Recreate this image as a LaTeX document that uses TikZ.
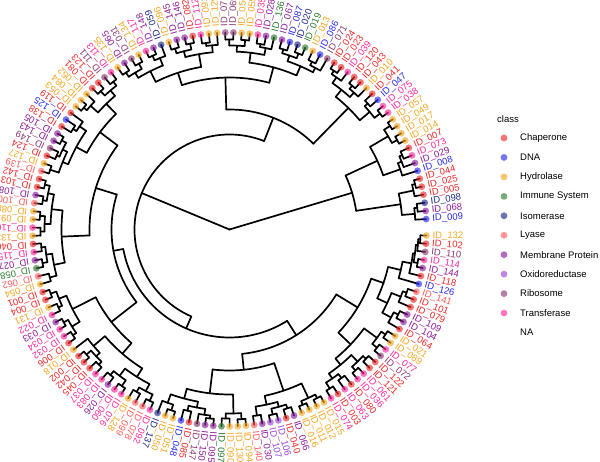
\documentclass[tikz,border=0pt]{standalone}
\usepackage{fontspec}
\setmainfont{Liberation Sans}
\definecolor{cC}{HTML}{F02828}
\definecolor{cD}{HTML}{2A2AF0}
\definecolor{cH}{HTML}{F5A623}
\definecolor{cI}{HTML}{2E7D32}
\definecolor{cS}{HTML}{20288A}
\definecolor{cL}{HTML}{FF5C5C}
\definecolor{cM}{HTML}{8E1C9C}
\definecolor{cO}{HTML}{9B45D8}
\definecolor{cR}{HTML}{8C3A72}
\definecolor{cT}{HTML}{FF2A9C}
\tikzset{br/.style={line width=1.7pt, line cap=round, black},
  lab/.style={anchor=west, inner sep=0pt, font=\fontsize{9.5}{10}\selectfont},
  tip/.style={opacity=0.65},
  legtxt/.style={anchor=west, inner sep=0pt, font=\fontsize{9.5}{11}\selectfont}}
\newcommand\inode[3]{%
  \gdef\tmn{1000}\gdef\tmx{-1000}%
  \foreach \ch in {#3}{%
    \edef\ca{\csname tA@\ch\endcsname}%
    \edef\cr{\csname tR@\ch\endcsname}%
    \draw[br] (\ca:#2pt) -- (\ca:\cr pt);%
    \pgfmathsetmacro\tmp{min(\tmn,\ca)}\xdef\tmn{\tmp}%
    \pgfmathsetmacro\tmp{max(\tmx,\ca)}\xdef\tmx{\tmp}%
  }%
  \draw[br] (\tmn:#2pt) arc[start angle=\tmn, end angle=\tmx, radius=#2pt];%
  \pgfmathsetmacro\tmp{(\tmn+\tmx)/2}%
  \expandafter\xdef\csname tA@#1\endcsname{\tmp}%
  \expandafter\xdef\csname tR@#1\endcsname{#2}%
}
\def\leaflist{1/132/H,2/102/C,3/110/R,4/114/T,5/144/M,6/118/C,7/126/D,8/141/L,9/101/C,10/079/C,
11/109/M,12/104/M,13/064/C,14/021/H,15/089/H,16/077/T,17/072/R,18/122/C,19/121/C,20/061/T,
21/036/T,22/080/C,23/063/T,24/003/C,25/074/T,26/015/H,27/012/H,28/011/H,29/016/H,30/066/M,
31/040/C,32/106/O,33/107/O,34/030/M,35/140/L,36/094/H,37/130/H,38/090/H,39/097/I,40/095/M,
41/150/M,42/147/R,43/085/C,44/048/D,45/051/H,46/050/H,47/137/S,48/092/T,49/078/L,50/099/L,
51/128/H,52/076/T,53/060/T,54/026/M,55/083/T,56/037/T,57/045/C,58/042/C,59/002/C,60/018/H,
61/006/C,62/032/T,63/034/T,64/033/M,65/022/T,66/131/H,67/004/C,68/001/C,69/054/H,70/062/L,
71/058/I,72/027/M,73/115/T,74/046/C,75/133/H,76/116/T,77/091/H,78/088/H,79/100/L,80/108/M,
81/103/C,82/142/C,83/139/L,84/127/H,85/124/C,86/149/R,87/143/M,88/105/M,89/138/C,90/125/D,
91/119/C,92/053/H,93/084/H,94/052/H,95/081/C,96/123/C,97/111/R,98/113/T,99/135/H,100/065/M,
101/031/R,102/134/H,103/117/T,104/148/M,105/059/S,106/096/H,107/145/M,108/146/M,109/082/C,110/112/T,
111/093/H,112/129/H,113/070/R,114/069/R,115/056/H,116/055/H,117/035/T,118/028/M,119/136/I,120/067/M,
121/087/D,122/020/S,123/019/I,124/013/H,125/086/D,126/071/R,127/024/C,128/023/C,129/039/T,130/120/C,
131/043/C,132/010/H,133/041/C,134/047/D,135/075/T,136/038/T,137/057/H,138/049/H,139/017/H,140/014/H,
141/007/C,142/073/T,143/029/M,144/008/D,145/044/C,146/025/C,147/005/C,148/098/S,149/068/M,150/009/D}
\begin{document}
\begin{tikzpicture}[x=1pt,y=1pt]
\useasboundingbox (0,0) rectangle (600,461);
\begin{scope}[shift={(229.5,231.5)}]
\foreach \i/\lab/\cl in \leaflist {%
  \pgfmathsetmacro\ang{-1.75-(\i-1)*2.384}%
  \expandafter\xdef\csname tA@\i\endcsname{\ang}%
  \expandafter\xdef\csname tR@\i\endcsname{197}%
}
% ---- leaves 1-25 ----
\inode{a}{191}{1,2}\inode{b}{189}{a,3}\inode{c}{191}{4,5}\inode{d}{187}{b,c}
\inode{e}{185}{d,6}\inode{f}{176}{e,7}
\inode{g}{188}{8,9}\inode{h}{184}{g,10}\inode{i}{189}{11,12}\inode{j}{184}{i,13}
\inode{k}{174}{h,j}\inode{l}{163}{f,k}
\inode{m}{188}{14,15}\inode{n}{189}{16,17}\inode{o}{183}{m,n}
\inode{p}{188}{18,19}\inode{q}{189}{20,21}\inode{r}{184}{p,q}
\inode{s}{186}{22,23}\inode{t}{188}{24,25}\inode{u}{181}{s,t}
\inode{v}{175}{r,u}\inode{w}{167}{o,v}
\inode{x}{150}{l,w}
% ---- leaves 26-47 ----
\inode{y1}{190}{26,27}\inode{y2}{190}{28,29}\inode{y}{186}{y1,y2}
\inode{z1}{188}{30,31}\inode{z2}{190}{32,33}\inode{z3}{184}{z1,z2}\inode{z4}{188}{34,35}\inode{z}{179}{z3,z4}
\inode{yz}{170}{y,z}
\inode{a1}{190}{36,37}\inode{a2}{189}{38,39}\inode{a3}{184}{a1,a2}
\inode{b1}{190}{40,41}\inode{b2}{187}{b1,42}\inode{b3}{186}{43,44}\inode{b4}{181}{b2,b3}
\inode{b5}{190}{45,46}\inode{b6}{184}{b5,47}\inode{b7}{175}{b4,b6}
\inode{c1}{165}{a3,b7}
\inode{c2}{141}{yz,c1}
% ---- leaves 48-68 ----
\inode{d1}{189}{48,49}\inode{d2}{187}{50,51}\inode{d3}{182}{d1,d2}
\inode{d4}{190}{52,53}\inode{d5}{188}{54,55}\inode{d6}{183}{d4,d5}\inode{d7}{174}{d3,d6}
\inode{d8}{188}{56,57}\inode{d9}{190}{58,59}\inode{d10}{184}{d8,d9}\inode{d11}{179}{d10,60}
\inode{d12}{164}{d7,d11}
\inode{e1}{189}{61,62}\inode{e2}{190}{63,64}\inode{e3}{185}{e1,e2}
\inode{e4}{188}{65,66}\inode{e5}{190}{67,68}\inode{e6}{184}{e4,e5}\inode{e7}{176}{e3,e6}
\inode{e8}{150}{d12,e7}
% ---- leaves 69-98 ----
\inode{f1}{186}{69,70}\inode{f2}{190}{71,72}\inode{f3}{189}{73,74}\inode{f4}{185}{f2,f3}\inode{f5}{179}{f1,f4}
\inode{f6}{189}{75,76}\inode{f7}{190}{77,78}\inode{f8}{185}{f6,f7}
\inode{f9}{189}{79,80}\inode{f10}{190}{81,82}\inode{f11}{185}{f9,f10}\inode{f12}{179}{f8,f11}
\inode{f13}{168}{f5,f12}
\inode{g1}{189}{83,84}\inode{g2}{188}{85,86}\inode{g3}{190}{87,88}\inode{g4}{185}{g2,g3}\inode{g5}{180}{g1,g4}
\inode{g6}{186}{89,90}\inode{g7}{182}{g6,91}\inode{g8}{174}{g5,g7}
\inode{g9}{190}{92,93}\inode{g10}{186}{g9,94}\inode{g11}{189}{95,96}\inode{g12}{188}{97,98}
\inode{g13}{183}{g11,g12}\inode{g14}{176}{g10,g13}\inode{g15}{162}{g8,g14}
\inode{g16}{140}{f13,g15}
% ---- leaves 99-126 ----
\inode{h1}{188}{99,100}\inode{h2}{189}{101,102}\inode{h3}{183}{h1,h2}
\inode{h4}{190}{103,104}\inode{h5}{185}{h4,105}\inode{h6}{177}{h3,h5}
\inode{h7}{189}{106,107}\inode{h8}{190}{108,109}\inode{h9}{184}{h7,h8}
\inode{h10}{188}{110,111}\inode{h11}{185}{h10,112}\inode{h12}{178}{h9,h11}
\inode{h13}{165}{h6,h12}
\inode{i1}{190}{113,114}\inode{i2}{190}{115,116}\inode{i3}{184}{i1,i2}
\inode{i4}{188}{117,118}\inode{i5}{185}{i4,119}\inode{i6}{178}{i3,i5}
\inode{i7}{188}{120,121}\inode{i8}{189}{122,123}\inode{i9}{184}{i7,i8}
\inode{i10}{187}{124,125}\inode{i11}{183}{i10,126}\inode{i12}{178}{i9,i11}
\inode{i13}{168}{i6,i12}
\inode{i14}{152}{h13,i13}
% ---- leaves 127-150 ----
\inode{j1}{190}{127,128}\inode{j2}{186}{j1,129}\inode{j3}{189}{130,131}\inode{j4}{185}{j3,132}
\inode{j5}{179}{j2,j4}\inode{j6}{187}{133,134}\inode{j7}{190}{135,136}\inode{j8}{183}{j6,j7}
\inode{j9}{170}{j5,j8}
\inode{k1}{191}{137,138}\inode{k2}{190}{139,140}\inode{k3}{184}{k1,k2}
\inode{k4}{188}{141,142}\inode{k5}{185}{k4,143}\inode{k6}{181}{k5,144}\inode{k7}{163}{k3,k6}
\inode{l1}{191}{145,146}\inode{l2}{188}{l1,147}\inode{l3}{189}{148,149}\inode{l4}{186}{l3,150}
\inode{l5}{173}{l2,l4}
\inode{R1}{128}{k7,l5}
% ---- deep structure ----
\inode{P1}{125}{x,c2}
\inode{P2}{118}{e8,g16}
\inode{Lo}{108}{P1,P2}
\inode{T}{120}{i14,j9}
\inode{Cc}{95}{T,Lo}
\inode{root}{0}{Cc,R1}
% --- tips and labels ---
\foreach \i/\lab/\cl in \leaflist {%
  \pgfmathsetmacro\ang{-1.75-(\i-1)*2.384}%
  \fill[c\cl, tip] (\ang:197pt) circle (3.4pt);
  \node[lab, rotate=\ang, text=c\cl] (L\i) at (\ang:203pt) {ID\_\lab};
}
\end{scope}
% --- legend ---
\node[legtxt] (legtitle) at (497,342) {class};
\foreach \k/\nm/\cl in {0/Chaperone/C,1/DNA/D,2/Hydrolase/H,3/Immune System/I,4/Isomerase/S,5/Lyase/L,6/Membrane Protein/M,7/Oxidoreductase/O,8/Ribosome/R,9/Transferase/T}{
  \pgfmathsetmacro\yy{461-138-19.45*\k}
  \fill[c\cl, tip] (504,\yy) circle (3.4pt);
  \node[legtxt] (leg\k) at (520,\yy) {\nm};
}
\node[legtxt] (legNA) at (520,{461-138-19.45*10}) {NA};
\end{tikzpicture}
\end{document}
